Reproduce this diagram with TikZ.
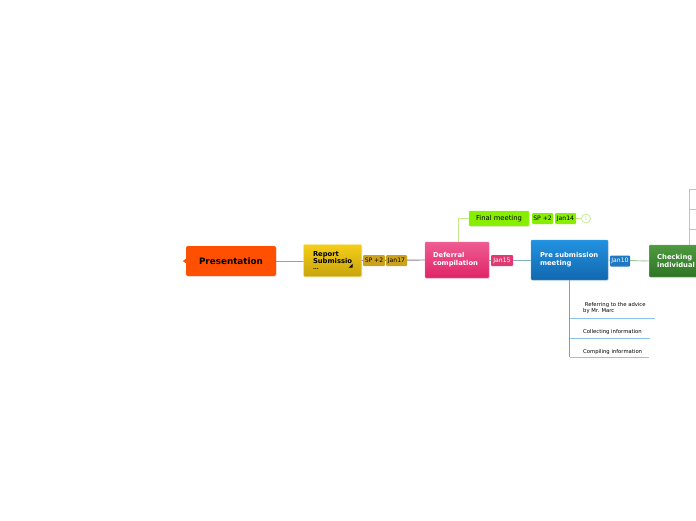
\documentclass[tikz,border=0pt]{standalone}
\usepackage{fontspec}
\setmainfont{DejaVu Sans}
\usetikzlibrary{shadows}
\definecolor{presOrange}{HTML}{FF4F00}
\definecolor{repTop}{HTML}{F4CE18}
\definecolor{repBot}{HTML}{C9A40E}
\definecolor{repBorder}{HTML}{F8E060}
\definecolor{tagYellow}{HTML}{CCA21C}
\definecolor{defTop}{HTML}{EE5C92}
\definecolor{defBot}{HTML}{E02468}
\definecolor{defBorder}{HTML}{F27AA6}
\definecolor{tagPink}{HTML}{E03A72}
\definecolor{preTop}{HTML}{2292E0}
\definecolor{preBot}{HTML}{1268B0}
\definecolor{preBorder}{HTML}{4AA8EE}
\definecolor{tagBlue}{HTML}{1E78C2}
\definecolor{chkTop}{HTML}{4E9A3E}
\definecolor{chkBot}{HTML}{2E7426}
\definecolor{chkBorder}{HTML}{78B868}
\definecolor{lime}{HTML}{88EE00}
\definecolor{limeBorder}{HTML}{A8F040}
\definecolor{connTan}{HTML}{B89A70}
\definecolor{connPurple}{HTML}{8C7C98}
\definecolor{connTeal}{HTML}{7EB4BC}
\definecolor{connGreen}{HTML}{A2C8A0}
\definecolor{limeLine}{HTML}{C4EC8C}
\definecolor{blueLine}{HTML}{8CC4EE}
\definecolor{blueVert}{HTML}{5AA8E8}
\definecolor{greenLine}{HTML}{AED4A6}
\begin{document}
\begin{tikzpicture}[x=1pt,y=-1pt,
  topicbox/.style={rounded corners=1pt, inner ysep=0pt, align=left,
    font=\bfseries\fontsize{6.8}{8}\selectfont,
    drop shadow={opacity=0.12, shadow xshift=1pt, shadow yshift=-1pt}},
  tagbox/.style={rounded corners=1pt, inner sep=0pt, minimum height=11pt,
    font=\fontsize{6.1}{7}\selectfont},
  leaftext/.style={anchor=west, inner sep=0pt, align=left,
    font=\fontsize{5.3}{6.3}\selectfont},
  conn/.style={line width=0.9pt}
]
\useasboundingbox (0,0) rectangle (696,520);
\clip (0,0) rectangle (696,520);

% ---------- connectors (drawn first, under the boxes) ----------
\coordinate (presE) at (276,261);
\coordinate (repW) at (304,261);
\draw[conn, connTan] (presE) -- (repW);

% ---------- nodes ----------
\node[topicbox, fill=presOrange, minimum width=90pt, minimum height=30pt,
      align=center, font=\bfseries\fontsize{8.8}{10}\selectfont, text=black,
      rounded corners=2pt] (pres) at (231,261) {Presentation};
\fill[presOrange] (pres.west) ++(0.5,-2.5) -- ++(-3.5,2.5) -- ++(3.5,2.5) -- cycle;

\node[topicbox, top color=repTop, bottom color=repBot, draw=repBorder,
      text width=39pt, inner xsep=9.5pt, minimum height=32pt, text=black]
      (rep) at (332.5,260.5) {Report\\[-0.5pt]Submissio\\[-2.5pt]{\fontsize{5}{5}\selectfont ...}};
\fill[black] (rep.south east) ++(-9,-9) -- ++(0,-4) -- ++(-4,4) -- cycle;

\node[topicbox, top color=defTop, bottom color=defBot, draw=defBorder,
      text width=48pt, inner xsep=8pt, minimum height=36pt, text=white]
      (def) at (457,260) {Deferral\\compilation};

\node[topicbox, top color=preTop, bottom color=preBot, draw=preBorder,
      text width=59pt, inner xsep=9pt, minimum height=40pt, text=white]
      (pre) at (569.5,260) {Pre submission\\meeting};

\node[topicbox, top color=chkTop, bottom color=chkBot, draw=chkBorder,
      text width=48pt, inner xsep=8pt, minimum height=32pt, text=white,
      anchor=west] (chk) at (649,261) {Checking\\individual};

\node[topicbox, fill=lime, draw=limeBorder, minimum width=60pt, minimum height=15pt,
      align=center, font=\fontsize{6.8}{8}\selectfont, text=black]
      (fin) at (499,218.5) {Final meeting};

% ---------- connectors ----------
\draw[conn, connPurple] (rep.east) -- (def.west);
\draw[conn, connTeal] (def.east) -- (pre.west);
\draw[conn, connGreen] (pre.east) -- (chk.west);
\draw[line width=0.8pt, limeLine] (def.north) ++(1,0) |- (fin.west);

% ---------- tags ----------
\node[tagbox, fill=tagYellow, minimum width=22pt] (t1) at (374,260.5) {SP +2};
\node[tagbox, fill=tagYellow, minimum width=21pt] (t2) at (396.5,260.5) {Jan17};
\node[tagbox, fill=tagPink, minimum width=22pt, text=white] (t3) at (502,260.5) {Jan15};
\node[tagbox, fill=tagBlue, minimum width=20pt, text=white] (t4) at (620,261) {Jan10};
\node[tagbox, fill=lime, minimum width=21pt] (t5) at (542.5,218.5) {SP +2};
\node[tagbox, fill=lime, minimum width=21pt] (t6) at (565.5,218.5) {Jan14};
\node[circle, draw=limeLine, fill=white, line width=0.7pt, minimum size=9pt, inner sep=0pt,
      text=limeLine, font=\fontsize{5}{5}\selectfont] (cnt) at (586,218.5) {1};
\draw[limeLine, line width=0.6pt] (t6.east) -- (cnt.west);

% ---------- Checking branches ----------
\coordinate (cv) at (689,245);
\coordinate (c1) at (689,189);
\coordinate (c2) at (689,209);
\coordinate (c3) at (689,229);
\draw[greenLine, line width=0.8pt] (cv) -- (c1) -- ++(10,0);
\draw[greenLine, line width=0.8pt] (c2) -- ++(10,0);
\draw[greenLine, line width=0.8pt] (c3) -- ++(10,0);

% ---------- Pre submission branches ----------
\coordinate (p1) at (569.5,318);
\coordinate (p2) at (569.5,338);
\coordinate (p3) at (569.5,357);
\draw[blueVert, line width=0.8pt] (pre.south) -- (p3);
\draw[blueLine, line width=0.8pt] (p1) -- (655,318);
\draw[blueLine, line width=0.8pt] (p2) -- (650,338);
\draw[blueLine, line width=0.8pt] (p3) -- (649,357);
\node[leaftext] (l1) at (583,308) {\ Referring to the advice\\by Mr. Marc};
\node[leaftext] (l2) at (583,332) {Collecting information};
\node[leaftext] (l3) at (583,352) {Compiling information};
\end{tikzpicture}
\end{document}
